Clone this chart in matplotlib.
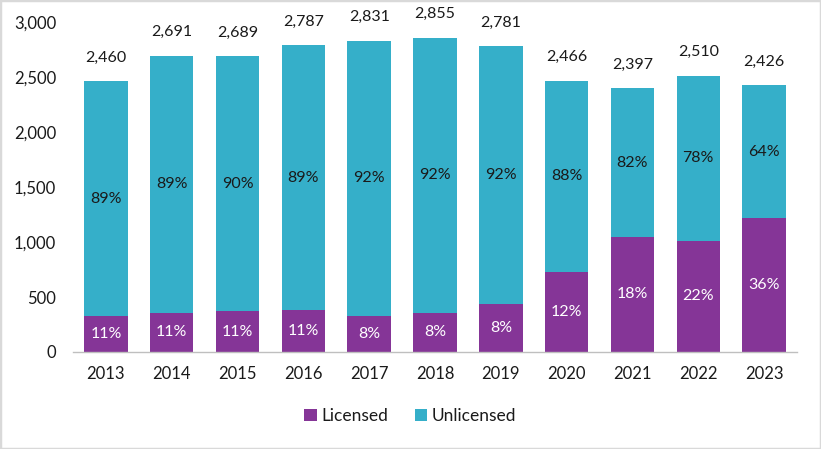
import matplotlib
matplotlib.use("Agg")
import matplotlib.pyplot as plt
from matplotlib.patches import Rectangle
import numpy as np

plt.rcParams['font.family'] = ['Lato', 'DejaVu Sans']

years = ["2013", "2014", "2015", "2016", "2017", "2018", "2019", "2020", "2021", "2022", "2023"]
totals = [2460, 2691, 2689, 2787, 2831, 2855, 2781, 2466, 2397, 2510, 2426]
licensed = [328, 356, 370, 379, 328, 355, 440, 729, 1046, 1010, 1219]
unlicensed = [t - l for t, l in zip(totals, licensed)]
licensed_pct = ["11%", "11%", "11%", "11%", "8%", "8%", "8%", "12%", "18%", "22%", "36%"]
unlicensed_pct = ["89%", "89%", "90%", "89%", "92%", "92%", "92%", "88%", "82%", "78%", "64%"]

purple = "#853597"
teal = "#35AFC9"
txt = "#1a1a1a"

fig = plt.figure(figsize=(8.21, 4.49), dpi=100)
ax = fig.add_axes([73/821, 1 - 352/449, (797 - 73)/821, (352 - 22)/449])

x = np.arange(len(years))
w = 0.66
b1 = ax.bar(x, licensed, w, color=purple, label="Licensed")
b2 = ax.bar(x, unlicensed, w, bottom=licensed, color=teal, label="Unlicensed")

for i in range(len(years)):
    ax.text(x[i], licensed[i] / 2, licensed_pct[i], ha="center", va="center",
            color="white", fontsize=11.5)
    ax.text(x[i], licensed[i] + unlicensed[i] / 2, unlicensed_pct[i], ha="center",
            va="center", color=txt, fontsize=11.5)
    ax.annotate(f"{totals[i]:,}", (x[i], totals[i]), xytext=(0, 17),
                textcoords="offset points", ha="center", va="center",
                color=txt, fontsize=11.5)

ax.set_xlim(-0.5, len(years) - 0.5)
ax.set_ylim(0, 3000)
ax.set_yticks(np.arange(0, 3001, 500))
ax.set_yticklabels([f"{v:,}" for v in range(0, 3001, 500)])
ax.set_xticks(x)
ax.set_xticklabels(years)
ax.tick_params(axis="both", length=0, labelsize=12, colors=txt)
ax.tick_params(axis="y", pad=12)
ax.tick_params(axis="x", pad=10)
for s in ["top", "right", "left"]:
    ax.spines[s].set_visible(False)
ax.spines["bottom"].set_color("#BFBFBF")
ax.spines["bottom"].set_linewidth(1)

leg = fig.legend(handles=[b1, b2], labels=["Licensed", "Unlicensed"], loc="center",
                 bbox_to_anchor=(0.5, 1 - 416/449), ncol=2, frameon=False,
                 fontsize=12.5, handlelength=0.7, handleheight=0.7,
                 handletextpad=0.3, columnspacing=1.5)
for t in leg.get_texts():
    t.set_color(txt)

fig.patches.append(Rectangle((0, 0), 1, 1, transform=fig.transFigure, fill=False,
                             edgecolor="#D9D9D9", linewidth=2.5))

fig.savefig("out.png", dpi=100)
